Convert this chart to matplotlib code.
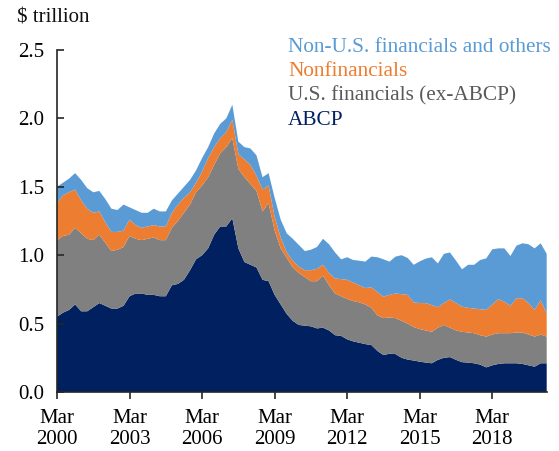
import numpy as np
import matplotlib
matplotlib.use("Agg")
import matplotlib.pyplot as plt

# Quarterly data, Mar 2000 - Jun 2020 ($ trillion)
abcp = [0.55, 0.58, 0.60, 0.64, 0.59, 0.59, 0.62, 0.65, 0.63, 0.61,
        0.61, 0.63, 0.70, 0.72, 0.72, 0.71, 0.71, 0.70, 0.70, 0.78,
        0.79, 0.82, 0.89, 0.97, 1.00, 1.05, 1.15, 1.21, 1.21, 1.27,
        1.05, 0.95, 0.93, 0.91, 0.82, 0.81, 0.71, 0.64, 0.57, 0.52,
        0.49, 0.485, 0.48, 0.465, 0.47, 0.45, 0.415, 0.41, 0.385, 0.37,
        0.36, 0.35, 0.343, 0.30, 0.27, 0.28, 0.277, 0.25, 0.237, 0.23,
        0.222, 0.215, 0.21, 0.235, 0.25, 0.255, 0.235, 0.218, 0.215, 0.21,
        0.20, 0.18, 0.195, 0.205, 0.21, 0.21, 0.21, 0.205, 0.195, 0.185,
        0.21, 0.21]
us_fin = [0.56, 0.56, 0.55, 0.56, 0.57, 0.53, 0.49, 0.50, 0.46, 0.42,
          0.43, 0.43, 0.44, 0.40, 0.39, 0.41, 0.42, 0.41, 0.41, 0.42,
          0.46, 0.49, 0.48, 0.49, 0.51, 0.52, 0.51, 0.535, 0.58, 0.585,
          0.58, 0.62, 0.59, 0.56, 0.50, 0.57, 0.47, 0.41, 0.41, 0.39,
          0.38, 0.355, 0.33, 0.345, 0.38, 0.33, 0.305, 0.29, 0.295, 0.295,
          0.295, 0.29, 0.272, 0.26, 0.27, 0.265, 0.263, 0.27, 0.263, 0.245,
          0.238, 0.235, 0.23, 0.235, 0.24, 0.215, 0.215, 0.222, 0.22, 0.22,
          0.215, 0.225, 0.225, 0.225, 0.22, 0.22, 0.225, 0.23, 0.225, 0.22,
          0.21, 0.195]
nonfin = [0.27, 0.30, 0.31, 0.28, 0.24, 0.22, 0.20, 0.17, 0.15, 0.14,
          0.13, 0.12, 0.12, 0.10, 0.09, 0.09, 0.09, 0.10, 0.10, 0.11,
          0.12, 0.11, 0.09, 0.07, 0.10, 0.14, 0.13, 0.11, 0.11, 0.135,
          0.11, 0.13, 0.14, 0.11, 0.16, 0.13, 0.10, 0.08, 0.04, 0.05,
          0.045, 0.05, 0.08, 0.09, 0.08, 0.09, 0.11, 0.125, 0.14, 0.135,
          0.125, 0.12, 0.15, 0.17, 0.157, 0.165, 0.18, 0.195, 0.21, 0.18,
          0.19, 0.20, 0.195, 0.15, 0.16, 0.208, 0.20, 0.184, 0.18, 0.18,
          0.19, 0.195, 0.22, 0.248, 0.23, 0.20, 0.25, 0.25, 0.23, 0.195,
          0.25, 0.17]
non_us = [0.12, 0.09, 0.10, 0.12, 0.15, 0.15, 0.15, 0.15, 0.17, 0.17,
          0.16, 0.19, 0.09, 0.11, 0.11, 0.10, 0.12, 0.11, 0.11, 0.09,
          0.08, 0.08, 0.09, 0.09, 0.10, 0.08, 0.10, 0.105, 0.10, 0.11,
          0.09, 0.09, 0.12, 0.15, 0.09, 0.09, 0.14, 0.13, 0.14, 0.16,
          0.16, 0.14, 0.15, 0.16, 0.19, 0.21, 0.19, 0.145, 0.165, 0.165,
          0.18, 0.193, 0.225, 0.255, 0.273, 0.243, 0.27, 0.285, 0.27, 0.275,
          0.305, 0.325, 0.35, 0.32, 0.36, 0.342, 0.31, 0.273, 0.315, 0.32,
          0.36, 0.377, 0.403, 0.372, 0.39, 0.364, 0.385, 0.402, 0.43, 0.45,
          0.417, 0.435]

x_ticks = [0, 12, 24, 36, 48, 60, 72]
x_labels = ["Mar\n2000", "Mar\n2003", "Mar\n2006", "Mar\n2009",
            "Mar\n2012", "Mar\n2015", "Mar\n2018"]
y_ticks = [0.0, 0.5, 1.0, 1.5, 2.0, 2.5]
series_names = ["Non-U.S. financials and others", "Nonfinancials",
                "U.S. financials (ex-ABCP)", "ABCP"]

c_navy = "#002060"
c_gray = "#808080"
c_orange = "#ED7D31"
c_blue = "#5B9BD5"

plt.rcParams["font.family"] = ["Liberation Serif", "DejaVu Serif"]

fig = plt.figure(figsize=(5.59, 4.51), dpi=100)
ax = fig.add_axes([57 / 559, 1 - 392 / 451, (546.7 - 57) / 559, (392 - 50) / 451])

x = np.arange(len(abcp))
ax.stackplot(x, abcp, us_fin, nonfin, non_us,
             colors=[c_navy, c_gray, c_orange, c_blue], linewidth=0)

ax.set_xlim(0, len(abcp) - 1)
ax.set_ylim(0, 2.5)
ax.set_yticks(y_ticks)
ax.set_yticklabels([f"{v:.1f}" for v in y_ticks])
ax.set_xticks(x_ticks)
ax.set_xticklabels(x_labels, linespacing=1.2)

for s in ["top", "right"]:
    ax.spines[s].set_visible(False)
for s in ["left", "bottom"]:
    ax.spines[s].set_color("#262626")
    ax.spines[s].set_linewidth(1.2)

ax.tick_params(axis="y", direction="in", length=5, width=1.2, color="#262626",
               labelsize=15, pad=9)
ax.tick_params(axis="x", direction="out", length=5, width=1.2, color="#262626",
               labelsize=15, pad=7)

fig.text(17 / 559, 1 - 23 / 451, "$ trillion", fontsize=15, ha="left",
         va="baseline", color="#111111")

legend_colors = [c_blue, c_orange, "#595959", c_navy]
legend_y = [51.5, 76, 100.5, 125]
for name, col, yy in zip(series_names, legend_colors, legend_y):
    fig.text(288 / 559, 1 - yy / 451, name, fontsize=15.3, color=col,
             ha="left", va="baseline")

fig.savefig("out.png", dpi=100)
